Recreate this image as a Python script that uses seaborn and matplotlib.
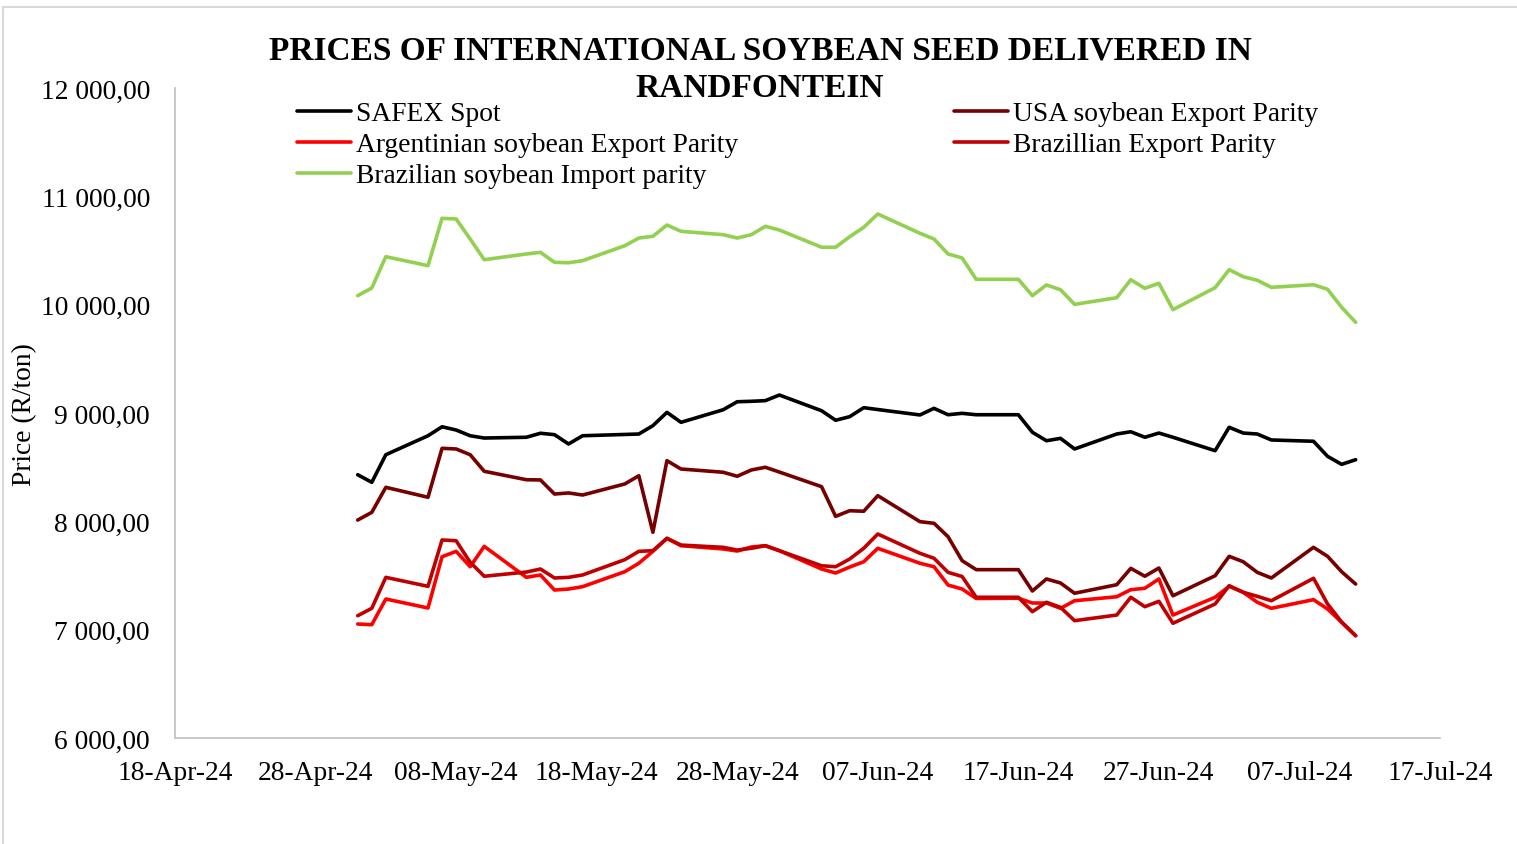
import matplotlib
matplotlib.use("Agg")
import matplotlib.pyplot as plt
import matplotlib.ticker as mticker
from matplotlib.lines import Line2D
from matplotlib.patches import Rectangle
import numpy as np
import pandas as pd
import seaborn as sns

# ---------------- data ----------------
dates = ["2024-05-01", "2024-05-02", "2024-05-03", "2024-05-06", "2024-05-07", "2024-05-08",
         "2024-05-09", "2024-05-10", "2024-05-13", "2024-05-14", "2024-05-15", "2024-05-16",
         "2024-05-17", "2024-05-20", "2024-05-21", "2024-05-22", "2024-05-23", "2024-05-24",
         "2024-05-27", "2024-05-28", "2024-05-29", "2024-05-30", "2024-05-31",
         "2024-06-03", "2024-06-04", "2024-06-05", "2024-06-06", "2024-06-07", "2024-06-10",
         "2024-06-11", "2024-06-12", "2024-06-13", "2024-06-14", "2024-06-17", "2024-06-18",
         "2024-06-19", "2024-06-20", "2024-06-21", "2024-06-24", "2024-06-25", "2024-06-26",
         "2024-06-27", "2024-06-28",
         "2024-07-01", "2024-07-02", "2024-07-03", "2024-07-04", "2024-07-05", "2024-07-08",
         "2024-07-09", "2024-07-10", "2024-07-11"]

safex_spot = [8430, 8360, 8615, 8790, 8873, 8843, 8790, 8769, 8776, 8813, 8800, 8714,
              8790, 8802, 8806, 8883, 9006, 8914, 9030, 9104, 9108, 9114, 9166,
              9021, 8933, 8966, 9049, 9032, 8982, 9043, 8984, 8997, 8984, 8984, 8822,
              8744, 8766, 8668, 8806, 8827, 8776, 8815, 8776,
              8652, 8868, 8815, 8806, 8751, 8739, 8600, 8526, 8569]

usa_export = [8012, 8083, 8314, 8222, 8674, 8668, 8615, 8462, 8384, 8382, 8252, 8262,
              8243, 8345, 8421, 7899, 8560, 8483, 8453, 8416, 8474, 8499, 8455,
              8320, 8046, 8098, 8093, 8237, 7997, 7982, 7858, 7637, 7554, 7554, 7357,
              7468, 7431, 7336, 7415, 7566, 7493, 7569, 7313,
              7498, 7677, 7627, 7529, 7477, 7760, 7677, 7535, 7421]

argentina_export = [7052, 7046, 7283, 7200, 7673, 7723, 7581, 7769, 7483, 7505, 7366, 7375,
                    7397, 7535, 7613, 7723, 7843, 7775, 7745, 7726, 7763, 7775, 7729,
                    7560, 7523, 7578, 7627, 7751, 7613, 7581, 7412, 7375, 7288, 7290, 7246,
                    7246, 7197, 7267, 7304, 7369, 7382, 7468, 7135,
                    7299, 7400, 7345, 7253, 7197, 7277, 7191, 7068, 6944]

brazil_export = [7129, 7197, 7483, 7400, 7828, 7821, 7622, 7493, 7532, 7560, 7477, 7483,
                 7505, 7646, 7723, 7729, 7843, 7781, 7760, 7735, 7751, 7775, 7729,
                 7590, 7581, 7652, 7751, 7883, 7705, 7659, 7529, 7491, 7299, 7299, 7166,
                 7253, 7206, 7083, 7135, 7299, 7212, 7262, 7059,
                 7237, 7406, 7345, 7308, 7267, 7474, 7237, 7071, 6944]

brazil_import = [10083, 10154, 10443, 10360, 10797, 10791, 10606, 10415, 10468, 10483, 10391, 10387,
                 10406, 10544, 10615, 10631, 10735, 10677, 10646, 10615, 10646, 10723, 10689,
                 10530, 10530, 10627, 10714, 10837, 10659, 10606, 10468, 10431, 10234, 10234, 10083,
                 10182, 10138, 10003, 10064, 10230, 10151, 10197, 9954,
                 10157, 10323, 10258, 10225, 10160, 10184, 10142, 9976, 9837]

series_names = ["SAFEX Spot", "USA soybean Export Parity", "Argentinian soybean Export Parity",
                "Brazillian Export Parity", "Brazilian soybean Import parity"]
series_colors = ["#000000", "#760000", "#FF0000", "#C00000", "#92D050"]

title_text = "PRICES OF INTERNATIONAL SOYBEAN SEED DELIVERED IN\nRANDFONTEIN"
y_label = "Price (R/ton)"
x_tick_dates = pd.date_range("2024-04-18", "2024-07-17", freq="10D")
y_ticks = [6000, 7000, 8000, 9000, 10000, 11000, 12000]

# ---------------- build frame ----------------
values = [safex_spot, usa_export, argentina_export, brazil_export, brazil_import]
frames = []
for name, vals in zip(series_names, values):
    frames.append(pd.DataFrame({"date": pd.to_datetime(dates), "price": vals, "series": name}))
df = pd.concat(frames, ignore_index=True)

# ---------------- style ----------------
sns.set_theme(style="white")
plt.rcParams["font.family"] = ["Liberation Serif", "DejaVu Serif"]
plt.rcParams["text.color"] = "black"
plt.rcParams["axes.labelcolor"] = "black"
plt.rcParams["xtick.color"] = "black"
plt.rcParams["ytick.color"] = "black"
FS = 19.8
LW = 2.6

W, H = 1517, 845
fig = plt.figure(figsize=(W / 100, H / 100), dpi=100)
fig.patch.set_facecolor("white")

ax = fig.add_axes([175 / W, (H - 739) / H, (1440 - 175) / W, (739 - 89) / H])

palette = dict(zip(series_names, series_colors))
sns.lineplot(data=df, x="date", y="price", hue="series", hue_order=series_names,
             palette=palette, linewidth=LW, ax=ax, legend=False, sort=True)

ax.set_xlim(x_tick_dates[0], x_tick_dates[-1])
ax.set_ylim(6000, 12000)
ax.set_xticks(x_tick_dates)
ax.set_xticklabels([d.strftime("%d-%b-%y") for d in x_tick_dates], fontsize=FS, color="black")
ax.set_yticks(y_ticks)
ax.yaxis.set_major_formatter(mticker.FuncFormatter(
    lambda v, p: f"{v:,.2f}".replace(",", " ").replace(".", ",")))
ax.tick_params(axis="both", length=0, colors="black", labelsize=FS)
ax.tick_params(axis="y", pad=18)
ax.tick_params(axis="x", pad=16)
ax.set_xlabel("")
ax.set_ylabel("")
ax.grid(False)
for side in ["top", "right"]:
    ax.spines[side].set_visible(False)
for side in ["left", "bottom"]:
    ax.spines[side].set_color("#BFBFBF")
    ax.spines[side].set_linewidth(1.2)

fig.text(25 / W, 1 - 415 / H, y_label, rotation=90, ha="center", va="center",
         fontsize=FS, color="black")

fig.text(760 / W, 1 - 70 / H, title_text, ha="center", va="center",
         fontsize=24, fontweight="bold", linespacing=1.25, color="black")

# legend (Excel row-wise order rendered column-wise)
order = [0, 2, 4, 1, 3]
handles = [Line2D([0], [0], color=series_colors[i], lw=LW) for i in order]
labels = [series_names[i] for i in order]
fig.legend(handles, labels, loc="upper left", bbox_to_anchor=(297 / W, 1 - 102 / H),
           ncol=2, frameon=False, fontsize=FS, handlelength=1.96, handletextpad=0.18,
           columnspacing=7.86, labelspacing=0.21, borderpad=0, borderaxespad=0,
           labelcolor="black")

# chart-area border
fig.patches.append(Rectangle((3 / W, -0.05), 1.2, (H - 8) / H + 0.05,
                             transform=fig.transFigure, fill=False,
                             edgecolor="#D9D9D9", linewidth=1.5))

fig.savefig("out.png", dpi=100, facecolor="white")
